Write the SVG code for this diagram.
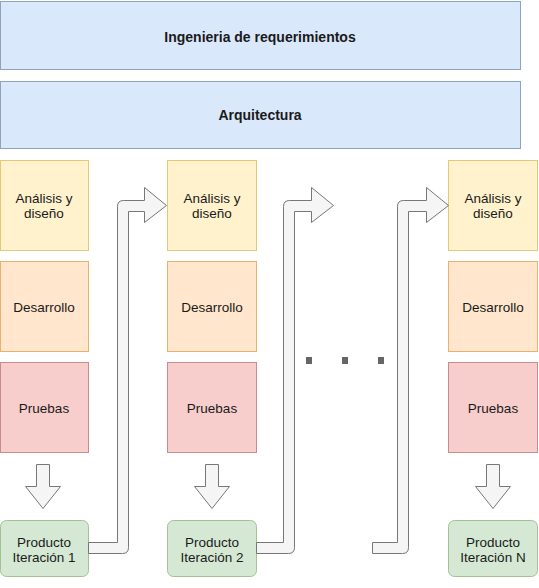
<svg xmlns="http://www.w3.org/2000/svg" width="539" height="588" viewBox="0 0 539 588">
<style>
text{font-family:"Liberation Sans",Arial,sans-serif;fill:#1a1a1a;text-anchor:middle}
.t{font-size:14px;font-weight:bold}
.b{font-size:13.5px}
.blue{fill:#dae8fc;stroke:#8fa3bd;stroke-width:1}
.yel{fill:#fff2cc;stroke:#e2c879;stroke-width:1}
.ora{fill:#ffe6cc;stroke:#e5b36b;stroke-width:1}
.red{fill:#f8cecc;stroke:#c98c8a;stroke-width:1}
.grn{fill:#d5e8d4;stroke:#a2c293;stroke-width:1}
.arr{fill:#f5f5f5;stroke:#777;stroke-width:1;stroke-linejoin:miter}
.dot{fill:#666}
</style>
<rect width="539" height="588" fill="#ffffff"/>
<g id="ingenieria"><rect class="blue" x="0.5" y="1.5" width="520" height="68"/><text class="t" x="260" y="42">Ingenieria de requerimientos</text></g>
<g id="arquitectura"><rect class="blue" x="0.5" y="81.5" width="520" height="67"/><text class="t" x="260" y="120">Arquitectura</text></g>

<g id="analisis1"><rect class="yel" x="0.5" y="160.5" width="88" height="90"/><text class="b" x="44" y="203">Análisis y</text><text class="b" x="44" y="218">diseño</text></g>
<g id="desarrollo1"><rect class="ora" x="0.5" y="261.5" width="88" height="90"/><text class="b" x="44" y="312">Desarrollo</text></g>
<g id="pruebas1"><rect class="red" x="0.5" y="362.5" width="88" height="90"/><text class="b" x="44" y="413">Pruebas</text></g>
<g id="producto1"><rect class="grn" x="0.5" y="520.5" width="88" height="56" rx="6"/><text class="b" x="44" y="547">Producto</text><text class="b" x="44" y="562">Iteración 1</text></g>

<g id="analisis2"><rect class="yel" x="167.5" y="160.5" width="89" height="90"/><text class="b" x="212" y="203">Análisis y</text><text class="b" x="212" y="218">diseño</text></g>
<g id="desarrollo2"><rect class="ora" x="167.5" y="261.5" width="89" height="90"/><text class="b" x="212" y="312">Desarrollo</text></g>
<g id="pruebas2"><rect class="red" x="167.5" y="362.5" width="89" height="90"/><text class="b" x="212" y="413">Pruebas</text></g>
<g id="producto2"><rect class="grn" x="167.5" y="520.5" width="89" height="56" rx="6"/><text class="b" x="212" y="547">Producto</text><text class="b" x="212" y="562">Iteración 2</text></g>

<g id="analisisN"><rect class="yel" x="448.5" y="160.5" width="89" height="90"/><text class="b" x="493" y="203">Análisis y</text><text class="b" x="493" y="218">diseño</text></g>
<g id="desarrolloN"><rect class="ora" x="448.5" y="261.5" width="89" height="90"/><text class="b" x="493" y="312">Desarrollo</text></g>
<g id="pruebasN"><rect class="red" x="448.5" y="362.5" width="89" height="90"/><text class="b" x="493" y="413">Pruebas</text></g>
<g id="productoN"><rect class="grn" x="448.5" y="520.5" width="89" height="56" rx="6"/><text class="b" x="493" y="547">Producto</text><text class="b" x="493" y="562">Iteración N</text></g>

<g id="dots">
<rect class="dot" x="306" y="357" width="6" height="7"/>
<rect class="dot" x="342" y="357" width="6" height="7"/>
<rect class="dot" x="378" y="357" width="6" height="7"/>
</g>

<g id="connectors">
<path class="arr" d="M36.5 464.5 H49.5 V486.5 H60.5 L43 508.5 L25.5 486.5 H36.5 Z"/>
<path class="arr" d="M205.5 464.5 H218.5 V486.5 H229.5 L212 508.5 L194.5 486.5 H205.5 Z"/>
<path class="arr" d="M486.5 464.5 H499.5 V486.5 H510.5 L493 508.5 L475.5 486.5 H486.5 Z"/>
<path class="arr" d="M88.5 542.5 H117.5 V206.5 Q117.5 200.5 123.5 200.5 H144.5 V187.5 L166.5 205.5 L144.5 222.5 V211.5 H128.5 V547.5 Q128.5 553.5 122.5 553.5 H88.5 Z"/>
<path class="arr" d="M256.5 542.5 H283.5 V206.5 Q283.5 200.5 289.5 200.5 H311.5 V187.5 L333.5 205.5 L311.5 222.5 V211.5 H294.5 V547.5 Q294.5 553.5 288.5 553.5 H256.5 Z"/>
<path class="arr" d="M372.5 542.5 H397.5 V206.5 Q397.5 200.5 403.5 200.5 H426.5 V187.5 L448.5 205.5 L426.5 222.5 V211.5 H408.5 V547.5 Q408.5 553.5 402.5 553.5 H372.5 Z"/>
</g>
</svg>
